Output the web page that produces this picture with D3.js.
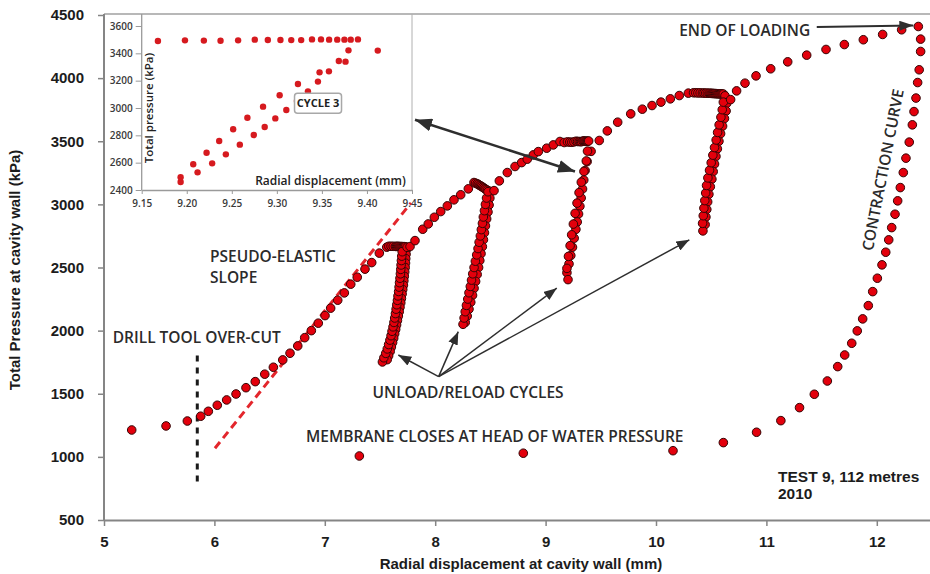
<!DOCTYPE html>
<html>
<head>
<meta charset="utf-8">
<script src="https://cdn.jsdelivr.net/npm/d3@7"></script>
<style>
  html, body { margin: 0; padding: 0; background: #fff; }
  svg { display: block; }
</style>
</head>
<body>
<svg id="chart" width="930" height="574"></svg>
<script>
// Pressuremeter test 9 (112 m): each point is [radial displacement (mm), total pressure (kPa)]

// virgin loading up to the first hold
const loading1 = [[5.251,1213],[5.562,1245],[5.755,1284],[5.876,1322],[5.945,1361],[6.026,1409],
  [6.111,1451],[6.196,1498],[6.286,1548],[6.370,1596],[6.456,1655],[6.534,1710],[6.619,1768],
  [6.685,1821],[6.755,1879],[6.818,1944],[6.878,2000],[6.941,2059],[7.002,2119],[7.053,2178],
  [7.117,2241],[7.177,2299],[7.235,2368],[7.294,2423],[7.364,2487],[7.425,2539],[7.494,2614],[7.561,2661]];
const hold1 = [[7.58,2668],[7.60,2668],[7.62,2668],[7.64,2667],[7.65,2667],[7.66,2667],[7.67,2667],
  [7.68,2666],[7.69,2666],[7.70,2666],[7.71,2665],[7.72,2665],[7.73,2664]];
const unload1 = [[7.738,2640],[7.736,2605],[7.733,2570],[7.731,2535],[7.728,2500],[7.724,2465],
  [7.720,2430],[7.716,2395],[7.712,2360],[7.706,2325],[7.700,2290],[7.694,2255],[7.688,2220],
  [7.681,2185],[7.674,2150],[7.666,2115],[7.658,2080],[7.650,2045],[7.642,2010],[7.633,1975],
  [7.624,1940],[7.614,1905],[7.603,1870],[7.592,1835],[7.578,1800],[7.565,1770]];
const reload1 = [[7.522,1752],[7.535,1785],[7.552,1820],[7.566,1855],[7.578,1890],[7.590,1925],
  [7.600,1960],[7.609,1995],[7.618,2030],[7.626,2065],[7.633,2100],[7.640,2135],[7.646,2170],
  [7.652,2205],[7.658,2240],[7.663,2275],[7.669,2310],[7.673,2345],[7.677,2380],[7.681,2415],
  [7.685,2450],[7.688,2485],[7.691,2520],[7.694,2555],[7.697,2590],[7.701,2625],[7.745,2660]];

const loading2 = [[7.772,2666],[7.817,2713],[7.887,2803],[7.937,2845],[7.992,2898],[8.050,2943],
  [8.110,2988],[8.170,3036],[8.231,3076],[8.300,3123]];
const hold2 = [[8.351,3173],[8.365,3168],[8.380,3163],[8.390,3158],[8.400,3152],[8.410,3147],
  [8.420,3142],[8.430,3136],[8.440,3130],[8.450,3124],[8.460,3118],[8.472,3112]];
const unload2 = [[8.490,3105],[8.495,3050],[8.488,2995],[8.478,2940],[8.466,2885],[8.455,2830],
  [8.446,2775],[8.437,2720],[8.427,2665],[8.415,2610],[8.404,2555],[8.393,2500],[8.380,2445],
  [8.366,2390],[8.352,2335],[8.338,2280],[8.322,2225],[8.306,2170],[8.290,2115],[8.272,2065]];
const reload2 = [[8.252,2050],[8.262,2100],[8.272,2150],[8.283,2200],[8.295,2250],[8.306,2300],
  [8.318,2350],[8.329,2400],[8.340,2450],[8.352,2500],[8.364,2550],[8.376,2600],[8.388,2650],
  [8.398,2700],[8.409,2750],[8.418,2800],[8.428,2850],[8.436,2900],[8.446,2950],[8.455,3000],
  [8.465,3050],[8.478,3100]];

const loading3 = [[8.533,3109],[8.581,3186],[8.653,3252],[8.723,3300],[8.783,3331],[8.834,3358],
  [8.889,3392],[8.934,3418],[9.010,3445],[9.070,3471],[9.130,3498]];
// cycle 3 (also shown enlarged in the inset)
const hold3 = [[9.168,3490],[9.198,3495],[9.219,3493],[9.2375,3492],[9.257,3495],[9.2755,3500],
  [9.290,3498],[9.304,3498],[9.316,3497],[9.327,3497],[9.339,3502],[9.349,3502],[9.358,3500],
  [9.367,3500],[9.375,3500],[9.382,3500],[9.390,3502]];
const unload3 = [[9.412,3420],[9.3762,3339],[9.3578,3268],[9.3456,3193],[9.3345,3122],[9.3223,3051],
  [9.3105,2985],[9.2983,2924],[9.2865,2861],[9.2744,2802],[9.2589,2732],[9.2434,2661],[9.2282,2595],
  [9.212,2529],[9.1932,2459]];
const reload3 = [[9.1932,2493],[9.2072,2588],[9.222,2673],[9.236,2759],[9.2515,2844],[9.2673,2929],
  [9.2847,3010],[9.3031,3093],[9.3234,3176],[9.3474,3261],[9.3688,3344],[9.3795,3422]];
// lowest reading of cycle 3, below the inset's pressure range
const cycle3Low = [[9.203,2404]];

const loading4 = [[9.486,3506],[9.559,3582],[9.653,3651],[9.771,3717],[9.876,3754],[9.964,3783],
  [10.045,3810],[10.130,3836],[10.211,3862],[10.293,3881]];
const hold4 = [[10.34,3884],[10.36,3884],[10.38,3883],[10.40,3883],[10.42,3882],[10.435,3882],
  [10.45,3881],[10.465,3881],[10.48,3880],[10.49,3880],[10.50,3879],[10.51,3879],[10.52,3878],
  [10.53,3878],[10.54,3877],[10.55,3877],[10.56,3876],[10.57,3876],[10.58,3875],[10.59,3875],
  [10.60,3874],[10.61,3874]];
const unload4 = [[10.625,3860],[10.640,3800],[10.635,3740],[10.620,3680],[10.603,3620],[10.585,3560],
  [10.570,3500],[10.556,3440],[10.543,3380],[10.530,3320],[10.518,3260],[10.506,3200],[10.492,3140],
  [10.479,3080],[10.468,3020],[10.460,2960],[10.452,2900],[10.445,2840]];
const reload4 = [[10.425,2790],[10.422,2850],[10.428,2910],[10.434,2970],[10.442,3030],[10.450,3090],
  [10.458,3150],[10.470,3210],[10.485,3270],[10.500,3330],[10.515,3390],[10.530,3450],[10.545,3510],
  [10.558,3570],[10.572,3630],[10.588,3690],[10.600,3750],[10.610,3810]];

const loading5 = [[10.676,3830],[10.730,3899],[10.806,3960],[10.906,4018],[11.039,4074],[11.193,4129],
  [11.365,4182],[11.540,4227],[11.706,4266],[11.878,4304],[12.053,4346],[12.225,4383],[12.376,4409]];

// contraction after end of loading, down to the membrane closing
const contraction = [[12.397,4309],[12.397,4211],[12.384,4066],[12.370,3965],[12.355,3842],[12.337,3735],
  [12.322,3630],[12.294,3493],[12.264,3366],[12.240,3252],[12.213,3133],[12.189,3028],[12.165,2922],
  [12.135,2816],[12.108,2719],[12.081,2621],[12.047,2521],[12.005,2415],[11.963,2309],[11.923,2198],
  [11.872,2093],[11.823,1998],[11.773,1900],[11.709,1807],[11.646,1715],[11.552,1601],[11.434,1496],
  [11.300,1390],[11.131,1287],[10.911,1195],[10.610,1113],[10.154,1049],[8.798,1029],[7.313,1007]];

// reference lines
const pseudoElasticLine = [[6.005,1068],[7.781,3012]];
const overcutLine = [[5.845,804],[5.845,1834]];

// ticks
const xTicks = [5,6,7,8,9,10,11,12];
const yTicks = [500,1000,1500,2000,2500,3000,3500,4000,4500];
const insetXTicks = [9.15,9.20,9.25,9.30,9.35,9.40,9.45];
const insetYTicks = [2400,2600,2800,3000,3200,3400,3600];

// ---------------------------------------------------------------
const svg = d3.select("#chart");
const W = 930, H = 574;
const plot = { left: 104, top: 14, right: 932, bottom: 520 };

const x = d3.scaleLinear().domain([5, 12.5]).range([plot.left, plot.right]);
const y = d3.scaleLinear().domain([500, 4500]).range([plot.bottom, 15]);

const AXIS_GREY = "#858585";
const TEXT_DARK = "#1c1c1c";
const NOTE = "#2b2b2b";
const NOTE_FONT = "'Open Sans', 'Noto Sans', sans-serif";
const NOTE_SIZE = 15.5;
const AXIS_FONT = "'Liberation Sans', Arial, sans-serif";

// plot frame (top edge; right edge falls outside the view)
svg.append("line")
  .attr("x1", plot.left).attr("x2", W)
  .attr("y1", plot.top).attr("y2", plot.top)
  .attr("stroke", "#a0a0a0").attr("stroke-width", 1.5);

// axes
const xAxis = svg.append("g")
  .attr("transform", `translate(0,${plot.bottom})`)
  .call(d3.axisBottom(x).tickValues(xTicks).tickFormat(d3.format("d")).tickSize(6).tickSizeOuter(0).tickPadding(10));
const yAxis = svg.append("g")
  .attr("transform", `translate(${plot.left},0)`)
  .call(d3.axisLeft(y).tickValues(yTicks).tickFormat(d3.format("d")).tickSize(6).tickSizeOuter(0).tickPadding(14));
yAxis.select(".domain").attr("d", `M0,${plot.top}V${plot.bottom}`);

[xAxis, yAxis].forEach(g => {
  g.select(".domain").attr("stroke", AXIS_GREY).attr("stroke-width", 2);
  g.selectAll(".tick line").attr("stroke", AXIS_GREY).attr("stroke-width", 1.5);
  g.selectAll(".tick text")
    .attr("fill", TEXT_DARK)
    .style("font-family", AXIS_FONT).style("font-weight", "bold").style("font-size", "15px");
});

svg.append("text")
  .attr("x", 521).attr("y", 569)
  .attr("text-anchor", "middle")
  .style("font-family", AXIS_FONT).style("font-weight", "bold").style("font-size", "15px")
  .attr("fill", TEXT_DARK)
  .text("Radial displacement at cavity wall (mm)");

svg.append("text")
  .attr("transform", `translate(20,270) rotate(-90)`)
  .attr("text-anchor", "middle")
  .style("font-family", AXIS_FONT).style("font-weight", "bold").style("font-size", "15px")
  .attr("fill", TEXT_DARK)
  .text("Total Pressure at cavity wall (kPa)");

// arrow heads
const defs = svg.append("defs");
function arrowHead(id, len, wid) {
  defs.append("marker")
    .attr("id", id)
    .attr("viewBox", `0 0 ${len} ${wid}`)
    .attr("refX", len).attr("refY", wid / 2)
    .attr("markerWidth", len).attr("markerHeight", wid)
    .attr("markerUnits", "userSpaceOnUse")
    .attr("orient", "auto-start-reverse")
    .append("path")
    .attr("d", `M0,0 L${len},${wid / 2} L0,${wid} Z`)
    .attr("fill", "#2e2e2e");
}
arrowHead("headBig", 17, 13);
arrowHead("headSmall", 13, 10);
arrowHead("headMid", 14, 10);

// reference lines
const lineGen = d3.line().x(d => x(d[0])).y(d => y(d[1]));
svg.append("path").datum(pseudoElasticLine)
  .attr("d", lineGen).attr("fill", "none")
  .attr("stroke", "#e3262c").attr("stroke-width", 3).attr("stroke-dasharray", "8,5");
svg.append("path").datum(overcutLine)
  .attr("d", lineGen).attr("fill", "none")
  .attr("stroke", "#1a1a1a").attr("stroke-width", 3).attr("stroke-dasharray", "6,6");

// measured points
const seriesAll = [loading1, hold1, unload1, reload1, loading2, hold2, unload2, reload2,
  loading3, hold3, unload3, reload3, cycle3Low, loading4, hold4, unload4, reload4, loading5, contraction];
const dots = svg.append("g");
seriesAll.forEach(s => {
  dots.selectAll(null).data(s).enter().append("circle")
    .attr("cx", d => x(d[0])).attr("cy", d => y(d[1]))
    .attr("r", 4.3)
    .attr("fill", "#e3000c")
    .attr("stroke", "#340505").attr("stroke-width", 1);
});

// annotations
function note(txt, px, py, anchor) {
  return svg.append("text")
    .attr("x", px).attr("y", py)
    .attr("text-anchor", anchor || "start")
    .style("font-family", NOTE_FONT).style("font-weight", 600).style("font-size", NOTE_SIZE + "px")
    .attr("fill", NOTE)
    .text(txt);
}
note("DRILL TOOL OVER-CUT", x(5.079), y(1905));
note("PSEUDO-ELASTIC", x(5.96), y(2547));
note("SLOPE", x(5.96), y(2376));
note("UNLOAD/RELOAD CYCLES", x(7.432), y(1464));
note("MEMBRANE CLOSES AT HEAD OF WATER PRESSURE", x(6.83), y(1120));
note("END OF LOADING", x(10.21), y(4330));
svg.append("text")
  .attr("transform", `translate(${x(12.056)},${y(3273)}) rotate(-79)`)
  .attr("text-anchor", "middle").attr("dy", "0.35em")
  .style("font-family", NOTE_FONT).style("font-weight", 600).style("font-size", NOTE_SIZE + "px")
  .attr("fill", NOTE)
  .text("CONTRACTION CURVE");

["TEST 9, 112 metres", "2010"].forEach((t, i) => {
  svg.append("text")
    .attr("x", x(11.105)).attr("y", y(803) + i * 17)
    .style("font-family", AXIS_FONT).style("font-weight", "bold").style("font-size", "15.5px")
    .attr("fill", TEXT_DARK)
    .text(t);
});

// arrows
function arrow(from, to, head, w, both) {
  const p = svg.append("line")
    .attr("x1", x(from[0])).attr("y1", y(from[1]))
    .attr("x2", x(to[0])).attr("y2", y(to[1]))
    .attr("stroke", "#2e2e2e").attr("stroke-width", w)
    .attr("marker-end", `url(#${head})`);
  if (both) p.attr("marker-start", `url(#${head})`);
}
arrow([11.456, 4404], [12.331, 4417], "headMid", 2);
arrow([7.817, 3670], [9.266, 3260], "headBig", 2.5, true);
const cyclesFrom = [8.031, 1636];
[[7.666, 1807], [8.209, 1992], [9.101, 2336], [10.302, 2719]].forEach(t => arrow(cyclesFrom, t, "headSmall", 1.5));

// ---------------- inset: cycle 3 enlarged ----------------
const ix = d3.scaleLinear().domain([9.15, 9.45]).range([141.7, 412]);
const iy = d3.scaleLinear().domain([2400, 3600]).range([190, 26]);
const inset = svg.append("g");
const INSET_GREY = "#9a9a9a";
const INSET_FONT = "'Open Sans', 'Noto Sans', sans-serif";

inset.append("line").attr("x1", ix(9.45)).attr("x2", ix(9.45)).attr("y1", plot.top).attr("y2", iy(2400))
  .attr("stroke", "#b0b0b0").attr("stroke-width", 1);
const ixAxis = inset.append("g").attr("transform", `translate(0,${iy(2400)})`)
  .call(d3.axisBottom(ix).tickValues(insetXTicks).tickFormat(d3.format(".2f")).tickSize(4).tickSizeOuter(0).tickPadding(6));
const iyAxis = inset.append("g").attr("transform", `translate(${ix(9.15)},0)`)
  .call(d3.axisLeft(iy).tickValues(insetYTicks).tickFormat(d3.format("d")).tickSize(6).tickSizeOuter(0).tickPadding(3));
iyAxis.select(".domain").attr("d", `M0,${plot.top}V${iy(2400)}`);
[ixAxis, iyAxis].forEach(g => {
  g.select(".domain").attr("stroke", INSET_GREY).attr("stroke-width", 1.3);
  g.selectAll(".tick line").attr("stroke", INSET_GREY).attr("stroke-width", 1);
  g.selectAll(".tick text").attr("fill", "#3a3a3a")
    .style("font-family", INSET_FONT).style("font-weight", 600).style("font-size", "10px");
});

[hold3, unload3, reload3].forEach(s => {
  inset.selectAll(null).data(s).enter().append("circle")
    .attr("cx", d => ix(d[0])).attr("cy", d => iy(d[1]))
    .attr("r", 3.2).attr("fill", "#d61a1f");
});

inset.append("text")
  .attr("transform", `translate(${ix(9.163)},${iy(3000)}) rotate(-90)`)
  .attr("text-anchor", "middle")
  .style("font-family", INSET_FONT).style("font-weight", 600).style("font-size", "11.5px")
  .attr("fill", "#222").text("Total pressure (kPa)");
inset.append("text")
  .attr("x", ix(9.443)).attr("y", iy(2438))
  .attr("text-anchor", "end")
  .style("font-family", INSET_FONT).style("font-weight", 600).style("font-size", "12px")
  .attr("fill", "#222").text("Radial displacement (mm)");

const cyc = inset.append("g").attr("transform", `translate(${ix(9.3457)},${iy(3035)})`);
cyc.append("rect").attr("x", -23.5).attr("y", -10).attr("width", 47).attr("height", 20).attr("rx", 3)
  .attr("fill", "#fff").attr("stroke", "#a8a8a8").attr("stroke-width", 1.5);
cyc.append("text").attr("text-anchor", "middle").attr("dy", "0.36em")
  .style("font-family", INSET_FONT).style("font-weight", 700).style("font-size", "11px")
  .attr("fill", "#222").text("CYCLE 3");
</script>
</body>
</html>
